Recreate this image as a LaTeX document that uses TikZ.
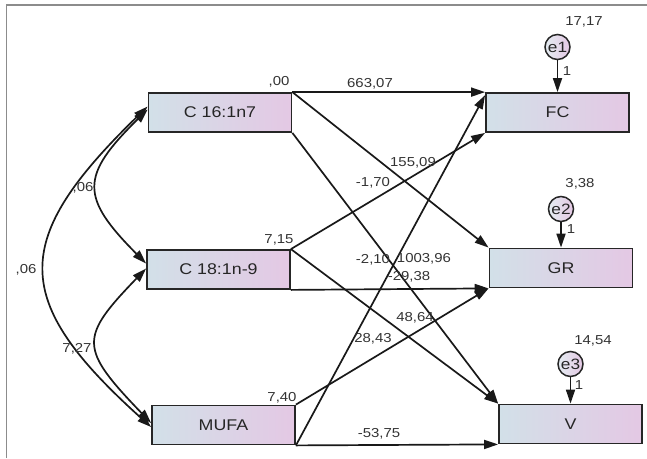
\documentclass[tikz,border=0pt]{standalone}
\usepackage{fontspec}
\setmainfont{Liberation Sans}[FakeStretch=1.15]
\usetikzlibrary{arrows.meta}
\definecolor{boxl}{RGB}{210,224,232}
\definecolor{boxr}{RGB}{228,200,228}
\definecolor{framec}{RGB}{140,140,140}
\begin{document}
\begin{tikzpicture}[x=1pt,y=-1pt,
  vbox/.style={draw=black!85, line width=1.8pt, left color=boxl, right color=boxr,
    minimum width=143pt, minimum height=39pt, inner sep=0pt,
    font=\fontsize{15.5}{15.5}\selectfont, text=black!85},
  errc/.style={circle, draw=black!85, line width=1.5pt, left color=boxl!60!white, right color=boxr,
    minimum size=25pt, inner sep=0pt, font=\fontsize{15}{15}\selectfont, text=black!85},
  arr/.style={line width=1.7pt, draw=black!90, -{Triangle[length=14pt,width=9pt]}},
  cov/.style={line width=1.7pt, draw=black!90, {Triangle[length=14pt,width=9pt]}-{Triangle[length=14pt,width=9pt]}},
  lab/.style={font=\fontsize{13}{13}\selectfont, text=black!80, inner sep=0pt},
]
\useasboundingbox (0,0) rectangle (647,458);
\draw[framec, line width=1.5pt] (6.5,458) -- (6.5,5) -- (647,5);

\node[vbox] (c16) at (220,112.5) {C 16:1n7};
\node[vbox] (c18) at (218.5,269.5) {C 18:1n-9};
\node[vbox] (mufa) at (223.5,425) {MUFA};
\node[vbox] (fc) at (557.5,112.5) {FC};
\node[vbox] (gr) at (561,268) {GR};
\node[vbox] (v) at (570.5,424) {V};
\node[errc] (e1) at (557.5,47) {e1};
\node[errc] (e2) at (561,209) {e2};
\node[errc] (e3) at (570.5,364) {e3};

% error arrows
\draw[arr] (e1) -- (fc);
\draw[arr] (e2) -- (gr);
\draw[arr] (e3) -- (v);

% regression paths
\draw[arr] (c16.north east) -- (fc.north west);
\draw[arr] (c16.north east) -- (gr.north west);
\draw[arr] (c16.south east) -- (v.north west);
\draw[arr] (c18.north east) -- (fc.south west);
\draw[arr] (c18.south east) -- (gr.south west);
\draw[arr] (c18.north east) -- (v.north west);
\draw[arr] (mufa.south east) -- ([yshift=-3pt]fc.north west);
\draw[arr] (mufa.north east) -- (gr.south west);
\draw[arr] (mufa.south east) -- (v.south west);

% covariances
\draw[cov] ([yshift=6pt]c16.west) .. controls (10,240) and (10,300) .. ([yshift=-2pt]mufa.west);
\draw[cov] ([yshift=3pt]c16.west) .. controls (80,176) and (80,197) .. ([yshift=6pt]c18.west);
\draw[cov] ([yshift=1pt]c18.west) .. controls (79,338) and (79,348) .. ([yshift=2pt]mufa.west);

% labels
\node[lab] (l00) at (279,82) {,00};
\node[lab] (l66307) at (370,84) {663,07};
\node[lab] (l15509) at (413,163) {155,09};
\node[lab] (l170) at (373,183) {-1,70};
\node[lab] (l715) at (279,240) {7,15};
\node[lab] (l210) at (373,260) {-2,10};
\node[lab] (l100396) at (424,259) {1003,96};
\node[lab] (l2938) at (409,277) {-29,38};
\node[lab] (l4864) at (415,318) {48,64};
\node[lab] (l2843) at (373,339) {28,43};
\node[lab] (l740) at (282,398) {7,40};
\node[lab] (l5375) at (379,434) {-53,75};
\node[lab] (lc1) at (83,188) {,06};
\node[lab] (lc2) at (26,270) {,06};
\node[lab] (lc3) at (77,349) {7,27};
\node[lab] (lv1) at (584,22) {17,17};
\node[lab] (lv2) at (580,184) {3,38};
\node[lab] (lv3) at (593,341) {14,54};
\node[lab] (one1) at (567,71) {1};
\node[lab] (one2) at (571,229) {1};
\node[lab] (one3) at (579,385) {1};
\end{tikzpicture}
\end{document}
